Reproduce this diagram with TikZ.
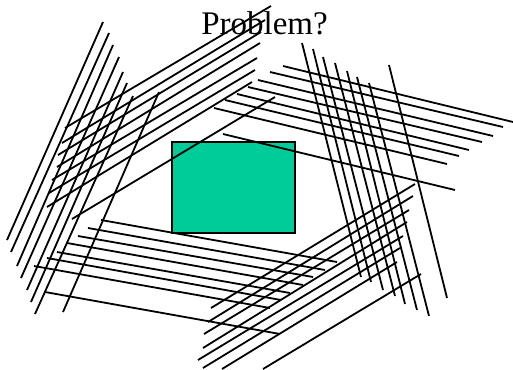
\documentclass[tikz,border=0pt]{standalone}
\usepackage{fontspec}
\setmainfont{Liberation Serif}
\definecolor{boxgreen}{RGB}{0,204,153}
\begin{document}
\begin{tikzpicture}[x=1pt,y=-1pt,
  hatch/.style={line width=1.8pt, line cap=butt, black},
  boxstyle/.style={draw=black, line width=2pt, fill=boxgreen},
  titlestyle/.style={font=\fontsize{33}{36}\selectfont, inner sep=0pt, anchor=base}]
\useasboundingbox (0,0) rectangle (513,369);
\node[titlestyle] (title) at (264.5,35) {Problem?};
\draw[boxstyle] (172,142) rectangle (295,233);
% bundle A (left, steep)
\foreach \xa/\ya/\xb/\yb in {103/22/7/240, 109/33/11/252, 113/45/17/266, 119/57/21/278,
  123/72/27/290, 127/83/31/302, 133/96/35/314, 159/92/63/312}
  \draw[hatch] (\xa,\ya) -- (\xb,\yb);
% bundle B (upper left, rising)
\foreach \xa/\ya/\xb/\yb in {65/128/271/6, 62/143/265/20, 58/155/261/32, 57/167/260/43,
  52/180/257/58, 49/193/255/70, 47/207/252/82, 72/219/275/97}
  \draw[hatch] (\xa,\ya) -- (\xb,\yb);
% bundle C (upper right, falling)
\foreach \xa/\ya/\xb/\yb in {283/66/513/122, 270/72/503/127, 258/80/493/136, 248/87/482/142,
  237/94/469/150, 225/100/459/156, 214/108/447/164, 223/134/455/190}
  \draw[hatch] (\xa,\ya) -- (\xb,\yb);
% bundle D (right, steep)
\foreach \xa/\ya/\xb/\yb in {302/43/361/277, 313/49/371/282, 323/57/383/290, 335/63/395/296,
  347/71/405/304, 357/77/417/310, 369/83/429/316, 389/65/447/298}
  \draw[hatch] (\xa,\ya) -- (\xb,\yb);
% bundle E (bottom, rising)
\foreach \xa/\ya/\xb/\yb in {211/308/415/184, 208/322/413/196, 204/334/409/210, 203/348/407/222,
  198/360/403/236, 203/368/400/248, 222/369/397/262, 263/369/421/274}
  \draw[hatch] (\xa,\ya) -- (\xb,\yb);
% bundle F (lower left, falling)
\foreach \xa/\ya/\xb/\yb in {101/220/337/262, 88/228/325/270, 78/236/313/277, 67/243/303/285,
  57/252/290/293, 47/258/281/300, 34/266/270/308, 45/292/280/334}
  \draw[hatch] (\xa,\ya) -- (\xb,\yb);
\end{tikzpicture}
\end{document}
